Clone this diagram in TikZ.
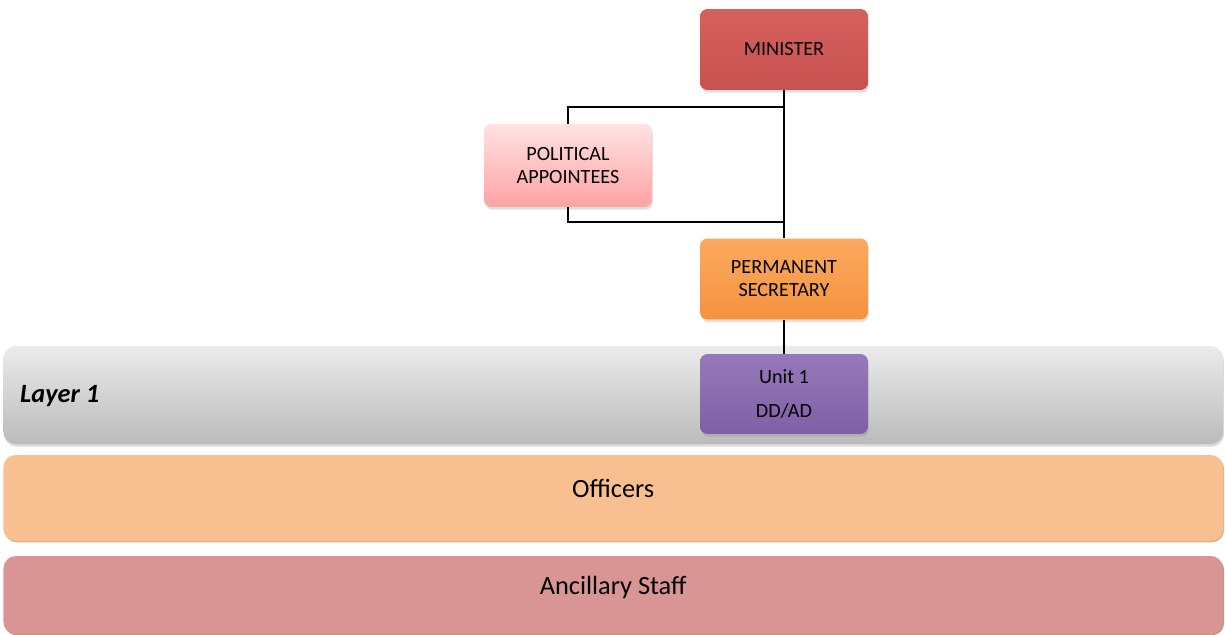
\documentclass[tikz,border=0pt]{standalone}
\usepackage{fontspec}
\setmainfont{Carlito}
\usepackage{tikz}
\usetikzlibrary{positioning,shapes,calc,shadows}
\definecolor{ministertop}{HTML}{D5605D}
\definecolor{ministerbot}{HTML}{C8524F}
\definecolor{pinktop}{HTML}{FFE2E2}
\definecolor{pinkbot}{HTML}{FFA3A3}
\definecolor{secrtop}{HTML}{FBAA60}
\definecolor{secrbot}{HTML}{F5923E}
\definecolor{unittop}{HTML}{9679BA}
\definecolor{unitbot}{HTML}{7F5FA6}
\definecolor{layertop}{HTML}{EBEBEB}
\definecolor{layerbot}{HTML}{BBBBBB}
\definecolor{officers}{HTML}{F8C090}
\definecolor{ancillary}{HTML}{D99594}

\begin{document}
\begin{tikzpicture}[x=0.02cm, y=-0.02cm,
  box/.style={rounded corners=0.15cm, minimum width=3.36cm, minimum height=1.62cm,
    align=center, font=\fontsize{11.5}{13}\selectfont,
    drop shadow={opacity=0.25, shadow xshift=0.5pt, shadow yshift=-1.5pt}},
  band/.style={rounded corners=0.25cm, minimum width=24.4cm, anchor=west},
  bandtext/.style={font=\fontsize{15}{18}\selectfont},
  link/.style={black, line width=0.8pt}]
  \useasboundingbox (0,0) rectangle (1225,635);
  % layers
  \node[band, minimum height=1.96cm, top color=layertop, bottom color=layerbot,
    drop shadow={opacity=0.3, shadow xshift=0.5pt, shadow yshift=-1.5pt}] (layer) at (3,395) {};
  \node[band, minimum height=1.72cm, fill=officers,
    drop shadow={opacity=0.6, color=brown, shadow xshift=0.6pt, shadow yshift=-0.8pt}] (officers) at (3,498) {};
  \node[band, minimum height=1.56cm, fill=ancillary,
    drop shadow={opacity=0.6, color=brown!70!black, shadow xshift=0.6pt, shadow yshift=-0.8pt}] (ancillary) at (3,595) {};
  \node[bandtext] (officerstext) at ([yshift=0.2cm]officers.center) {Officers};
  \node[bandtext] (ancillarytext) at ([yshift=0.15cm]ancillary.center) {Ancillary Staff};
  \node[anchor=west, font=\fontsize{15}{18}\selectfont\bfseries\itshape] (layerlabel) at (14,396) {Layer 1};
  % boxes
  \node[box, top color=ministertop, bottom color=ministerbot] (minister) at (784,49.5) {MINISTER};
  \node[box, minimum height=1.66cm, top color=pinktop, bottom color=pinkbot] (appointees) at (568,165.5) {POLITICAL\\APPOINTEES};
  \node[box, top color=secrtop, bottom color=secrbot] (secretary) at (784,279) {PERMANENT\\SECRETARY};
  \node[box, minimum height=1.6cm, top color=unittop, bottom color=unitbot] (unit) at (784,394) {Unit 1\\[1.1ex]DD/AD};
  % connectors
  \coordinate (upper) at (784,107);
  \coordinate (lower) at (784,222);
  \draw[link] (minister.south) -- (secretary.north);
  \draw[link] (upper) -| (appointees.north);
  \draw[link] (appointees.south) |- (lower);
  \draw[link] (secretary.south) -- (unit.north);
\end{tikzpicture}
\end{document}
